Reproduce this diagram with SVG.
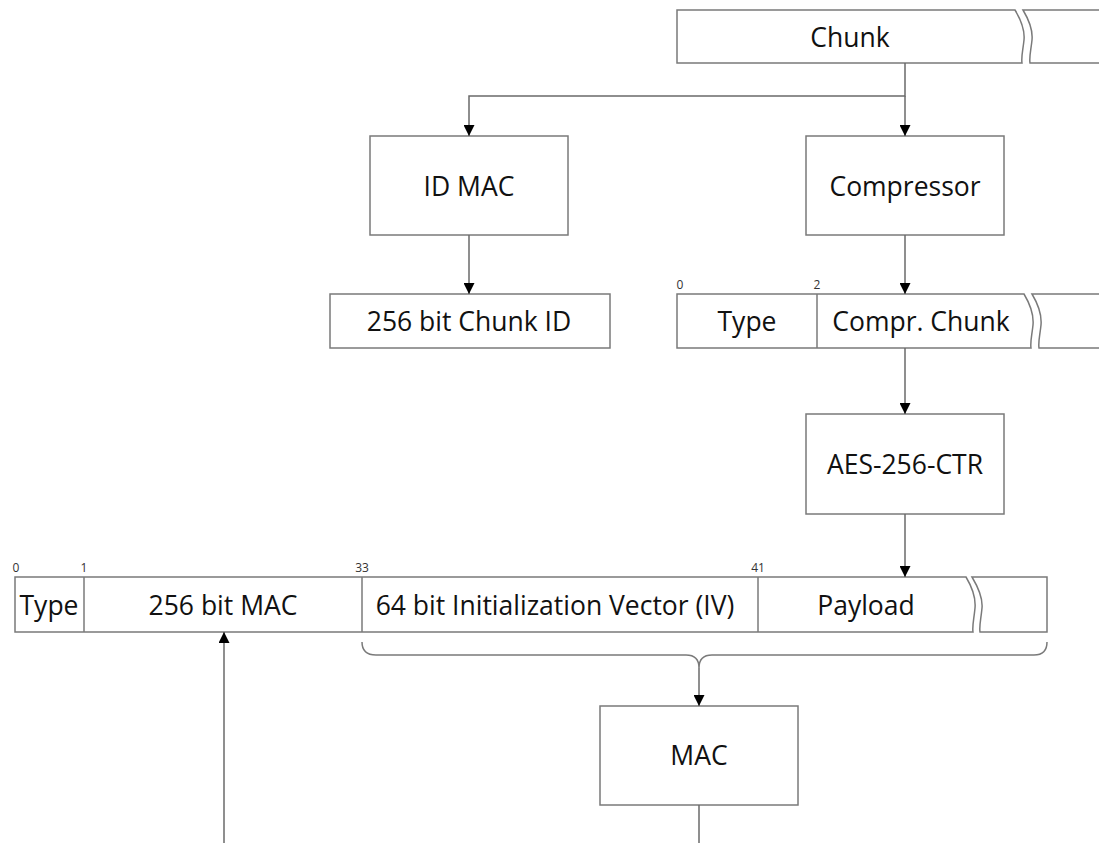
<svg xmlns="http://www.w3.org/2000/svg" width="1099" height="843" viewBox="0 0 1099 843">
<defs>
<marker id="ah" viewBox="0 0 10 10" refX="10" refY="5" markerWidth="11" markerHeight="11" markerUnits="userSpaceOnUse" orient="auto">
<path d="M0,0 L10,5 L0,10 Z" fill="#000"/>
</marker>
<style>
.box{fill:#fff;stroke:#7a7a7a;stroke-width:1.5}
.ln{fill:none;stroke:#7a7a7a;stroke-width:1.5}
.c{stroke:#6a6a6a;stroke-width:1.5;fill:none}
.t{font-family:"Open Sans","Liberation Sans",sans-serif;font-size:26.5px;fill:#111;text-anchor:middle;dominant-baseline:central}
.s{font-family:"Open Sans","Liberation Sans",sans-serif;font-size:12px;fill:#333;text-anchor:middle}
</style>
</defs>
<rect width="1099" height="843" fill="#fff"/>

<g id="chunk">
<path class="box" d="M677,10 H1015 C1021,20 1025,30 1024,40 C1023,50 1021,57 1022,63 H677 Z"/>
<path class="box" d="M1023,10 H1100 V63 H1030 C1029,57 1031,50 1032,40 C1033,30 1029,20 1023,10 Z"/>
<text class="t" x="850" y="37">Chunk</text>
</g>

<g id="idmac">
<rect class="box" x="370" y="136" width="198" height="99"/>
<text class="t" x="469" y="186">ID MAC</text>
</g>

<g id="compressor">
<rect class="box" x="806" y="136" width="198" height="99"/>
<text class="t" x="905" y="186">Compressor</text>
</g>

<g id="chunkid">
<rect class="box" x="330" y="294" width="280" height="54"/>
<text class="t" x="469" y="321">256 bit Chunk ID</text>
</g>

<g id="comprchunk">
<path class="box" d="M677,294 H1024 C1030,304 1034,314 1033,325 C1032,335 1030,342 1031,348 H677 Z"/>
<line class="ln" x1="817" y1="294" x2="817" y2="348"/>
<path class="box" d="M1032,294 H1100 V348 H1039 C1038,342 1040,335 1041,325 C1042,314 1038,304 1032,294 Z"/>
<text class="t" x="747" y="321">Type</text>
<text class="t" x="921" y="321">Compr. Chunk</text>
<text class="s" x="680" y="289">0</text>
<text class="s" x="817" y="289">2</text>
</g>

<g id="aes">
<rect class="box" x="806" y="414" width="198" height="100"/>
<text class="t" x="905" y="464">AES-256-CTR</text>
</g>

<g id="packet">
<path class="box" d="M15,577 H966 C972,587 976,597 975,608 C974,619 972,626 973,632 H15 Z"/>
<line class="ln" x1="84" y1="577" x2="84" y2="632"/>
<line class="ln" x1="362" y1="577" x2="362" y2="632"/>
<line class="ln" x1="758" y1="577" x2="758" y2="632"/>
<path class="box" d="M972,577 H1047 V632 H980 C979,626 981,619 982,608 C983,597 978,587 972,577 Z"/>
<text class="t" x="49" y="605">Type</text>
<text class="t" x="223" y="605">256 bit MAC</text>
<text class="t" x="555" y="605">64 bit Initialization Vector (IV)</text>
<text class="t" x="866" y="605">Payload</text>
<text class="s" x="16" y="572">0</text>
<text class="s" x="84" y="572">1</text>
<text class="s" x="362" y="572">33</text>
<text class="s" x="758" y="572">41</text>
</g>

<g id="brace">
<path class="ln" d="M362,642 Q362,655 376,655 H686 Q699,655 699,668 Q699,655 712,655 H1034 Q1047,655 1047,642"/>
</g>

<g id="mac">
<rect class="box" x="600" y="706" width="198" height="99"/>
<text class="t" x="699" y="755">MAC</text>
</g>

<g id="connectors">
<polyline class="c" points="905,63 905,96 469,96 469,136" marker-end="url(#ah)"/>
<line class="c" x1="905" y1="96" x2="905" y2="136" marker-end="url(#ah)"/>
<line class="c" x1="469" y1="235" x2="469" y2="294" marker-end="url(#ah)"/>
<line class="c" x1="905" y1="235" x2="905" y2="294" marker-end="url(#ah)"/>
<line class="c" x1="905" y1="348" x2="905" y2="414" marker-end="url(#ah)"/>
<line class="c" x1="905" y1="514" x2="905" y2="577" marker-end="url(#ah)"/>
<line class="c" x1="699" y1="668" x2="699" y2="706" marker-end="url(#ah)"/>
<line class="c" x1="699" y1="805" x2="699" y2="843"/>
<line class="c" x1="224" y1="843" x2="224" y2="632" marker-end="url(#ah)"/>
</g>
</svg>
